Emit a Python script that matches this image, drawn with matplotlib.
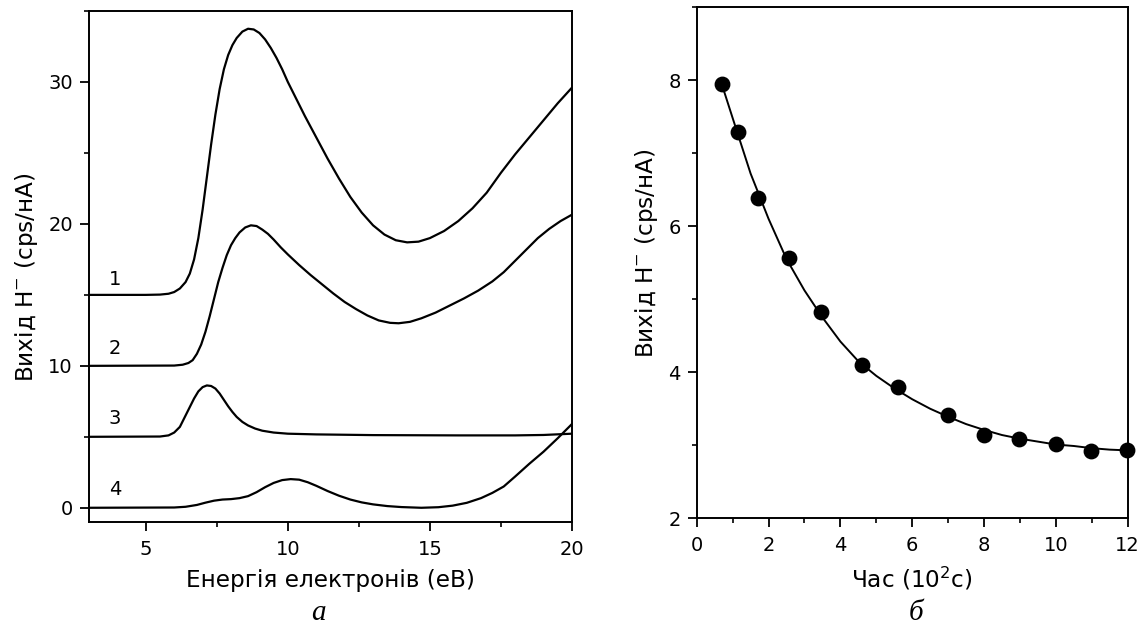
import matplotlib
matplotlib.use("Agg")
import matplotlib.pyplot as plt
from matplotlib.ticker import MultipleLocator

plt.rcParams['font.family'] = ['DejaVu Sans']
plt.rcParams['mathtext.fontset'] = 'dejavusans'

# panel a: H- yield vs electron energy, curves 1-4
e1 = [3.0, 5.0, 5.5, 5.8, 6.0, 6.2, 6.4, 6.55, 6.7, 6.85, 7.0, 7.15, 7.3, 7.45, 7.6, 7.75,
      7.9, 8.05, 8.2, 8.4, 8.6, 8.8, 9.0, 9.2, 9.4, 9.6, 9.8, 10.0, 10.3, 10.6, 11.0, 11.4,
      11.8, 12.2, 12.6, 13.0, 13.4, 13.8, 14.2, 14.6, 15.0, 15.5, 16.0, 16.5, 17.0, 17.5,
      18.0, 18.5, 19.0, 19.5, 20.0]
y1 = [15.0, 15.0, 15.02, 15.08, 15.2, 15.45, 15.9, 16.5, 17.5, 19.0, 21.0, 23.3, 25.6, 27.7,
      29.5, 30.9, 31.9, 32.6, 33.1, 33.55, 33.75, 33.7, 33.45, 33.0, 32.4, 31.7, 30.9, 30.0,
      28.8, 27.6, 26.1, 24.6, 23.2, 21.9, 20.8, 19.9, 19.25, 18.85, 18.7, 18.75, 19.0, 19.5,
      20.2, 21.1, 22.2, 23.6, 24.9, 26.1, 27.3, 28.5, 29.6]

e2 = [3.0, 6.0, 6.3, 6.5, 6.65, 6.8, 6.95, 7.1, 7.25, 7.4, 7.55, 7.7, 7.85, 8.0, 8.15, 8.3,
      8.5, 8.7, 8.9, 9.1, 9.3, 9.5, 9.75, 10.0, 10.4, 10.8, 11.2, 11.6, 12.0, 12.4, 12.8,
      13.2, 13.6, 13.9, 14.3, 14.7, 15.2, 15.7, 16.2, 16.7, 17.2, 17.6, 18.0, 18.4, 18.8,
      19.2, 19.6, 20.0]
y2 = [10.0, 10.02, 10.08, 10.2, 10.4, 10.85, 11.5, 12.4, 13.5, 14.7, 15.9, 16.9, 17.8, 18.5,
      19.0, 19.4, 19.75, 19.9, 19.85, 19.6, 19.3, 18.9, 18.35, 17.85, 17.1, 16.4, 15.75, 15.1,
      14.5, 14.0, 13.55, 13.2, 13.03, 13.0, 13.1, 13.35, 13.75, 14.25, 14.75, 15.3, 15.95,
      16.6, 17.4, 18.2, 19.0, 19.65, 20.2, 20.65]

e3 = [3.0, 5.5, 5.8, 6.0, 6.2, 6.4, 6.55, 6.7, 6.85, 7.0, 7.15, 7.3, 7.45, 7.6, 7.75, 7.9,
      8.05, 8.2, 8.4, 8.6, 8.85, 9.1, 9.5, 10.0, 11.0, 13.0, 16.0, 18.0, 19.0, 20.0]
y3 = [5.0, 5.02, 5.1, 5.3, 5.7, 6.5, 7.1, 7.7, 8.2, 8.5, 8.62, 8.58, 8.4, 8.05, 7.6, 7.15,
      6.75, 6.4, 6.05, 5.8, 5.58, 5.43, 5.3, 5.22, 5.17, 5.12, 5.1, 5.1, 5.13, 5.22]

e4 = [3.0, 6.0, 6.4, 6.8, 7.1, 7.4, 7.7, 8.0, 8.3, 8.6, 8.9, 9.2, 9.5, 9.8, 10.1, 10.4,
      10.7, 11.0, 11.4, 11.8, 12.2, 12.6, 13.0, 13.5, 14.0, 14.7, 15.3, 15.8, 16.3, 16.8,
      17.2, 17.6, 18.0, 18.5, 19.0, 19.5, 20.0]
y4 = [0.0, 0.02, 0.07, 0.2, 0.36, 0.5, 0.58, 0.61, 0.68, 0.82, 1.1, 1.45, 1.75, 1.95, 2.02,
      1.98, 1.8, 1.55, 1.18, 0.85, 0.58, 0.38, 0.24, 0.12, 0.05, 0.0, 0.04, 0.15, 0.35, 0.68,
      1.05, 1.5, 2.2, 3.1, 3.95, 4.9, 5.9]

curve_labels = ["1", "2", "3", "4"]
label_y = [16.1, 11.2, 6.3, 1.3]

# panel b: H- yield vs time
t_pts = [0.69, 1.15, 1.71, 2.58, 3.46, 4.60, 5.60, 6.99, 7.99, 8.98, 9.99, 10.98, 11.98]
y_pts = [7.94, 7.29, 6.38, 5.56, 4.83, 4.10, 3.80, 3.42, 3.14, 3.09, 3.02, 2.92, 2.94]

t_fit = [0.7, 1.0, 1.5, 2.0, 2.5, 3.0, 3.5, 4.0, 4.5, 5.0, 5.5, 6.0, 6.5, 7.0, 7.5, 8.0,
         8.5, 9.0, 9.5, 10.0, 10.5, 11.0, 11.5, 12.0]
y_fit = [7.94, 7.48, 6.72, 6.10, 5.55, 5.12, 4.75, 4.42, 4.15, 3.95, 3.78, 3.63, 3.50, 3.39,
         3.29, 3.21, 3.14, 3.09, 3.05, 3.01, 2.99, 2.96, 2.94, 2.93]

fig = plt.figure(figsize=(11.45, 6.33), dpi=100)
ax1 = fig.add_axes([0.0777, 0.1754, 0.4218, 0.8072])
ax2 = fig.add_axes([0.6085, 0.1812, 0.3764, 0.8077])

for ax in (ax1, ax2):
    for s in ax.spines.values():
        s.set_linewidth(1.4)
    ax.tick_params(which='major', direction='out', length=6.5, width=1.3, labelsize=14,
                   pad=6.5, top=False, right=False)
    ax.tick_params(which='minor', direction='out', length=3.5, width=1.2,
                   top=False, right=False)
    ax.tick_params(axis='y', which='major', pad=5)

for e, y in [(e1, y1), (e2, y2), (e3, y3), (e4, y4)]:
    ax1.plot(e, y, color='black', lw=1.6, solid_joinstyle='round', solid_capstyle='round')
for lab, ly in zip(curve_labels, label_y):
    ax1.text(3.91, ly, lab, fontsize=14, ha='center', va='center')

ax1.set_xlim(3, 20)
ax1.set_ylim(-1, 35)
ax1.xaxis.set_major_locator(MultipleLocator(5))
ax1.xaxis.set_minor_locator(MultipleLocator(2.5))
ax1.yaxis.set_major_locator(MultipleLocator(10))
ax1.yaxis.set_minor_locator(MultipleLocator(5))
ax1.set_xlabel("Енергія електронів (еВ)", fontsize=16.7, labelpad=7)
ax1.set_ylabel("Вихід H$^{-}$ (cps/нА)", fontsize=16.7, labelpad=6, y=0.479)

ax2.plot(t_fit, y_fit, color='black', lw=1.4)
ax2.plot(t_pts, y_pts, 'o', color='black', ms=10.4, clip_on=False)
ax2.set_xlim(0, 12)
ax2.set_ylim(2, 9)
ax2.xaxis.set_major_locator(MultipleLocator(2))
ax2.xaxis.set_minor_locator(MultipleLocator(1))
ax2.yaxis.set_major_locator(MultipleLocator(2))
ax2.yaxis.set_minor_locator(MultipleLocator(1))
ax2.set_xlabel("Час (10$^{2}$с)", fontsize=16.7, labelpad=7)
ax2.set_ylabel("Вихід H$^{-}$ (cps/нА)", fontsize=16.7, labelpad=6, y=0.519)

serif = ['Liberation Serif', 'DejaVu Serif']
fig.text(318 / 1145, 1 - 613 / 633, "а", fontsize=21, style='italic', family=serif,
         ha='center', va='center')
fig.text(916 / 1145, 1 - 613 / 633, "б", fontsize=21, style='italic', family=serif,
         ha='center', va='center')

fig.savefig("out.png", dpi=100)
